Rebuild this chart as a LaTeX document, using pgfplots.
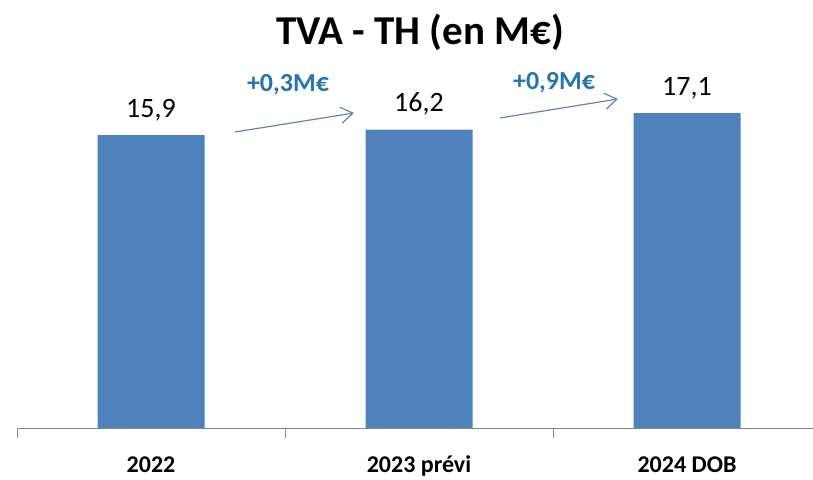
\documentclass[border=0pt]{standalone}
\usepackage{fontspec}
\setmainfont{Carlito}
\usepackage{pgfplots}
\pgfplotsset{compat=1.18}
\usetikzlibrary{arrows.meta}
\definecolor{barblue}{RGB}{79,129,189}
\definecolor{annblue}{RGB}{38,116,178}
\definecolor{arrblue}{RGB}{96,134,180}
\definecolor{axgray}{RGB}{134,134,134}
\begin{document}
\begin{tikzpicture}
\useasboundingbox (0,0) rectangle (813pt,479pt);
\begin{axis}[
  at={(17pt,51pt)}, anchor=south west,
  x=268pt, y=18.42pt,
  xmin=-0.5, xmax=2.47, ymin=0, ymax=21,
  axis x line*=bottom, axis y line=none,
  x axis line style={axgray, line width=0.8pt, -},
  ybar, bar width=107pt, bar shift=0pt,
  xtick={0,1,2},
  xticklabels={2022,2023 prévi,2024 DOB},
  major tick length=0pt,
  xticklabel style={font=\bfseries\fontsize{24}{28}\selectfont, anchor=base, yshift=-44pt, inner sep=0pt},
  extra x ticks={-0.5,0.5,1.5},
  extra x tick labels={},
  extra x tick style={tick style={axgray, line width=0.8pt}, major tick length=10pt, tick align=outside},
  nodes near coords,
  point meta=explicit symbolic,
  every node near coord/.append style={font=\fontsize{28}{32}\selectfont, black, anchor=base, yshift=18pt, inner sep=0pt},
  clip=false,
]
\addplot[fill=barblue, draw=none] coordinates {(0,15.9) [15,9] (1,16.2) [16,2] (2,17.1) [17,1]};
\end{axis}
\node[anchor=base, font=\bfseries\fontsize{41}{48}\selectfont, inner sep=0pt] at (420pt,434pt) {TVA - TH (en M€)};
\draw[arrblue, line width=1.2pt, -{Straight Barb[length=12pt,width=16pt,line width=1.2pt]}] (235pt,347pt) -- (354pt,366pt);
\draw[arrblue, line width=1.2pt, -{Straight Barb[length=12pt,width=16pt,line width=1.2pt]}] (500pt,361pt) -- (618pt,380pt);
\node[anchor=base, font=\bfseries\fontsize{26}{30}\selectfont, text=annblue, inner sep=0pt] at (288pt,387pt) {+0,3M€};
\node[anchor=base, font=\bfseries\fontsize{26}{30}\selectfont, text=annblue, inner sep=0pt] at (554pt,389pt) {+0,9M€};
\end{tikzpicture}
\end{document}
